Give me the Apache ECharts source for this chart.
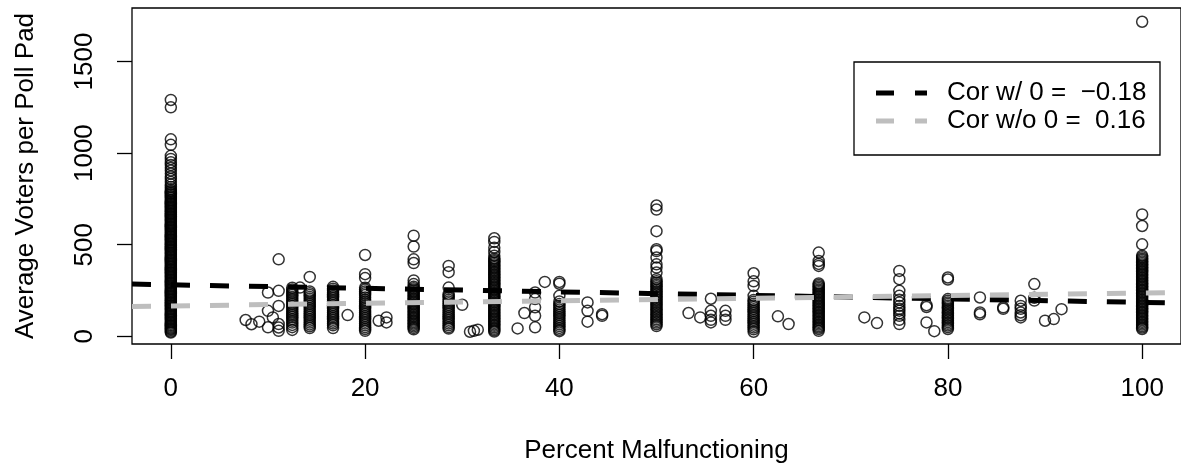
<!DOCTYPE html>
<html>
<head>
<meta charset="utf-8">
<script src="https://cdn.jsdelivr.net/npm/echarts@6/dist/echarts.min.js"></script>
<style>
html,body{margin:0;padding:0;background:#fff;}
#chart{width:1181px;height:469px;}
</style>
</head>
<body>
<div id="chart"></div>
<script>
// ---- data ----
const pctLevels = [0, 7.7, 8.3, 9.1, 10, 10.5, 11.1, 12.5, 13.3, 14.3, 16.7, 18.2, 20, 21.4, 22.2, 25, 28.6, 30, 30.8, 31.2, 31.6, 33.3, 35.7, 36.4, 37.5, 38.5, 40, 42.9, 44.4, 50, 53.3, 54.5, 55.6, 57.1, 60, 62.5, 63.6, 66.7, 71.4, 72.7, 75, 77.8, 78.6, 80, 83.3, 85.7, 87.5, 88.9, 90, 90.9, 91.7, 100];
const votersAtLevel = [
  [1290,1250,1075,1045,985,968,950,935,920,905,888,872,858,842,828,815,803,795,789,782,777,771,764,759,753,746,741,735,728,723,717,710,705,699,692,687,681,674,669,663,656,651,645,638,633,627,620,615,609,602,597,591,584,579,573,566,561,555,548,543,537,530,525,519,512,507,501,494,489,483,476,471,465,458,453,447,440,435,429,422,417,411,404,399,393,386,381,375,368,363,357,350,345,339,332,327,321,314,309,303,296,291,285,278,273,267,260,255,249,242,237,231,224,219,213,206,201,195,188,183,177,170,165,159,152,147,141,134,129,123,116,111,105,98,93,87,80,75,69,62,57,51,44,39,33,26,21],
  [89],
  [66],
  [80],
  [239,139,49],
  [103],
  [420,248,166,67,48,30],
  [265,255,245,235,225,215,205,195,185,175,165,155,145,135,125,115,105,95,85,75,62,50,35],
  [266],
  [324,245,235,225,215,205,195,185,175,165,155,145,135,125,115,105,95,85,75,65,55,45],
  [270,260,250,240,230,220,210,200,190,180,170,160,150,140,130,120,110,100,90,80,70,60,45],
  [116],
  [444,339,318,265,255,245,235,225,212,200,190,180,170,160,150,140,130,120,110,100,90,80,70,60,50,40,30],
  [85],
  [103,76],
  [549,490,420,400,305,285,270,262,254,246,238,230,222,214,206,198,190,182,174,166,158,150,142,134,126,118,110,102,94,86,78,70,62,54,46,38],
  [384,350,266,230,220,210,200,190,180,170,160,150,140,130,120,110,100,90,80,70,60,50,42],
  [172],
  [25],
  [30],
  [36],
  [535,515,484,460,440,425,417,409,401,393,385,377,369,361,353,345,337,329,321,313,305,297,289,281,273,265,257,249,241,233,225,217,209,201,193,185,177,169,161,153,145,137,129,121,113,105,97,89,81,73,65,57,49,41,33,26],
  [43],
  [127],
  [239,203,158,112,49],
  [297],
  [297,287,221,190,176,166,156,146,136,126,116,106,96,86,76,66,56,46,36,28],
  [185,139,80],
  [121,112],
  [714,692,574,475,465,430,393,375,348,312,300,291,282,273,264,255,246,237,228,219,210,201,192,183,174,165,156,147,138,129,120,111,102,93,84,75,66,56],
  [127],
  [103],
  [205,139,112,90,76],
  [139,112,90],
  [344,300,275,221,198,188,178,168,158,148,138,128,118,108,98,88,78,68,58,48,38,25],
  [109],
  [67],
  [457,411,395,384,288,280,272,264,256,248,240,232,224,216,208,200,192,184,176,168,160,152,144,136,128,120,112,104,96,88,80,72,64,56,48,40,30],
  [103],
  [72],
  [357,312,248,221,200,185,166,150,140,125,112,90,67],
  [170,160,76],
  [28],
  [321,310,203,194,185,176,167,158,149,140,131,122,113,104,95,86,77,68,59,50,40],
  [212,130,120],
  [158,150],
  [194,166,150,130,115,103],
  [285,210,195],
  [85],
  [94],
  [148],
  [1717,665,602,502,440,432,424,416,408,400,392,384,376,368,360,352,344,336,328,320,312,304,296,288,280,272,264,256,248,240,232,224,216,208,200,192,184,176,168,160,152,144,136,128,120,112,104,96,88,80,72,64,56,48,40]
];
// fitted lines: [intercept, slope]
const fitWith0 = [281, -0.96];
const fitWithout0 = [166, 0.70];
const legendLabels = ['Cor w/ 0 =  \u22120.18', 'Cor w/o 0 =  0.16'];
const xTicks = [0, 20, 40, 60, 80, 100];
const yTicks = [0, 500, 1000, 1500];
const xRange = [-4, 104];
const yRange = [-42, 1792];

// ---- build ----
const points = [];
pctLevels.forEach((p, i) => votersAtLevel[i].forEach(v => points.push([p, v])));
const lineData = f => xRange.map(x => [x, f[0] + f[1] * x]);

const FONT = 'Liberation Sans, Arial, sans-serif';
const FS = 26;
const chart = echarts.init(document.getElementById('chart'), null, {renderer: 'canvas'});
const dash = [19, 20];

chart.setOption({
  animation: false,
  backgroundColor: '#fff',
  grid: {left: 132, top: 8, width: 1055, height: 337, show: true, borderColor: '#000', borderWidth: 1.3, backgroundColor: 'transparent'},
  xAxis: {
    type: 'value', min: xRange[0], max: xRange[1],
    splitLine: {show: false},
    axisLine: {show: false, onZero: false},
    axisTick: {show: true, length: 15, inside: false, customValues: xTicks, lineStyle: {color: '#000', width: 1.3}},
    axisLabel: {show: true, customValues: xTicks, color: '#000', fontSize: FS, fontFamily: FONT, margin: 32, formatter: v => String(v)},
    name: 'Percent Malfunctioning', nameLocation: 'middle', nameGap: 94,
    nameTextStyle: {color: '#000', fontSize: FS, fontFamily: FONT}
  },
  yAxis: {
    type: 'value', min: yRange[0], max: yRange[1],
    splitLine: {show: false},
    axisLine: {show: false, onZero: false},
    axisTick: {show: true, length: 15, inside: false, customValues: yTicks, lineStyle: {color: '#000', width: 1.3}},
    axisLabel: {show: true, customValues: yTicks, rotate: 90, color: '#000', fontSize: FS, fontFamily: FONT, margin: 34, formatter: v => String(v)},
    name: 'Average Voters per Poll Pad', nameLocation: 'middle', nameGap: 93, nameRotate: 90,
    nameTextStyle: {color: '#000', fontSize: FS, fontFamily: FONT}
  },
  series: [
    {
      type: 'scatter', data: points, symbol: 'circle', symbolSize: 11,
      itemStyle: {color: 'rgba(0,0,0,0)', borderColor: '#000', borderWidth: 1.5},
      z: 2, silent: true
    },
    {
      type: 'line', data: lineData(fitWith0), symbol: 'none', z: 3, silent: true,
      lineStyle: {color: '#000', width: 5, type: dash, cap: 'butt'}
    },
    {
      type: 'line', data: lineData(fitWithout0), symbol: 'none', z: 3, silent: true,
      lineStyle: {color: '#BEBEBE', width: 5, type: dash, cap: 'butt'}
    }
  ],
  graphic: [
    {type: 'rect', shape: {x: 854, y: 62, width: 306, height: 93}, style: {fill: '#fff', stroke: '#000', lineWidth: 1.3}, z: 10},
    {type: 'line', shape: {x1: 876, y1: 93, x2: 927, y2: 93}, style: {stroke: '#000', lineWidth: 5, lineDash: [18, 21]}, z: 11},
    {type: 'line', shape: {x1: 876, y1: 121, x2: 927, y2: 121}, style: {stroke: '#BEBEBE', lineWidth: 5, lineDash: [18, 21]}, z: 11},
    {type: 'text', x: 947, y: 93, style: {text: legendLabels[0], fill: '#000', font: FS + 'px ' + FONT, textVerticalAlign: 'middle'}, z: 11},
    {type: 'text', x: 947, y: 121, style: {text: legendLabels[1], fill: '#000', font: FS + 'px ' + FONT, textVerticalAlign: 'middle'}, z: 11}
  ]
});
</script>
</body>
</html>
